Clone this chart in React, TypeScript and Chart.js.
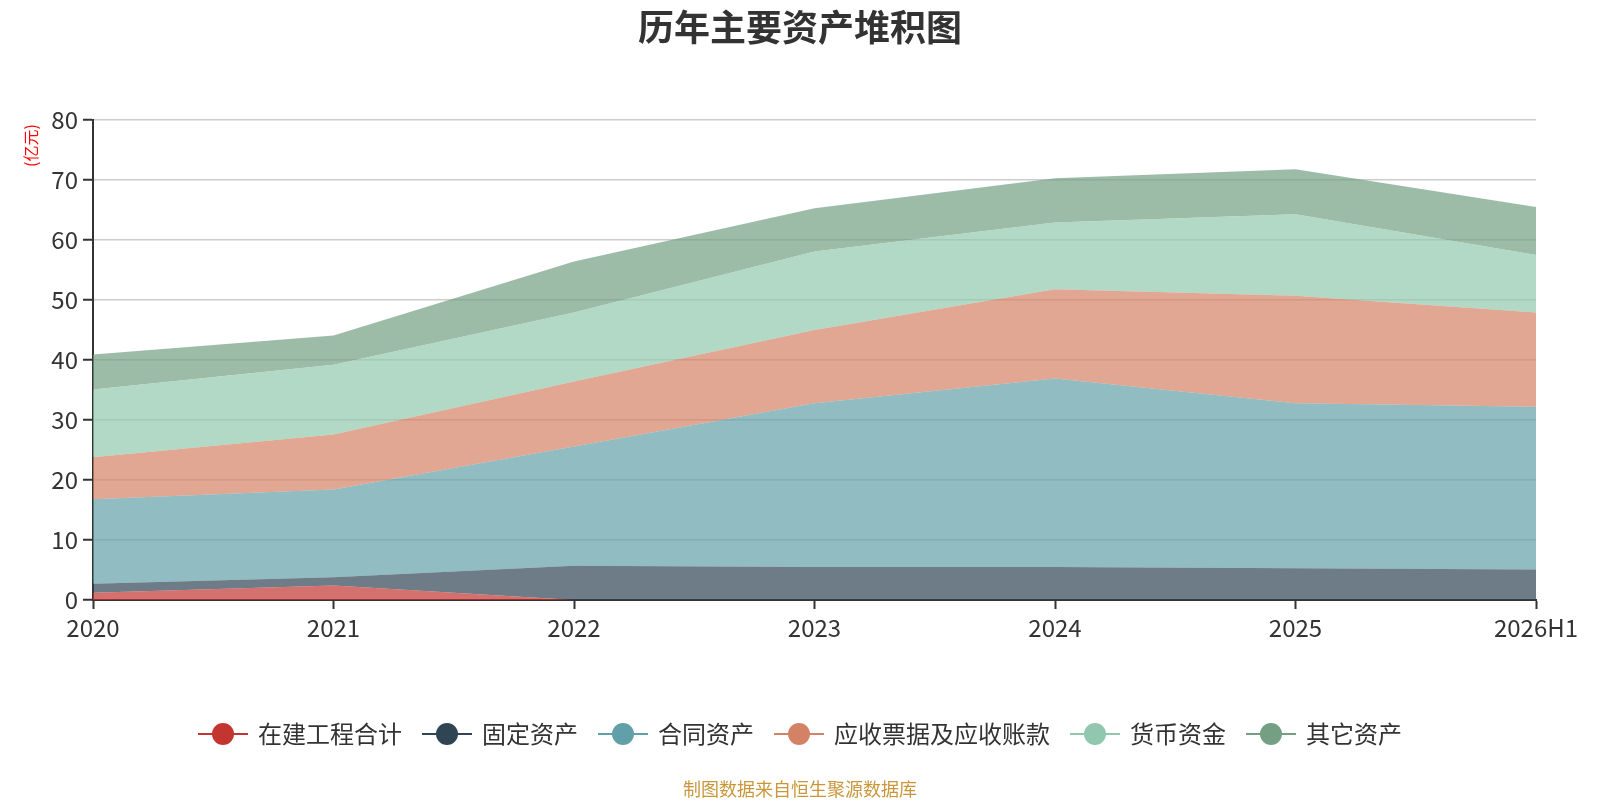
import React, { useEffect, useRef } from "react";
import { Chart, registerables } from "chart.js";

Chart.register(...registerables);

const categories = ["2020", "2021", "2022", "2023", "2024", "2025", "2026H1"];
const seriesNames = ["在建工程合计", "固定资产", "合同资产", "应收票据及应收账款", "货币资金", "其它资产"];
const zaijian = [1.2, 2.4, 0, 0, 0, 0, 0];
const guding = [1.5, 1.4, 5.7, 5.5, 5.5, 5.3, 5.1];
const hetong = [14.1, 14.6, 19.9, 27.3, 31.4, 27.5, 27.1];
const yingshou = [7.0, 9.2, 10.8, 12.2, 14.9, 17.9, 15.7];
const huobi = [11.3, 11.6, 11.5, 13.1, 11.1, 13.6, 9.6];
const qita = [5.8, 4.9, 8.5, 7.2, 7.4, 7.5, 8.0];
const seriesValues = [zaijian, guding, hetong, yingshou, huobi, qita];
const colors = ["#c23531", "#2f4554", "#61a0a8", "#d48265", "#91c7ae", "#749f83"];

const titleText = "历年主要资产堆积图";
const unitText = "(亿元)";
const footerText = "制图数据来自恒生聚源数据库";
const FONT = "'Noto Sans CJK SC', 'Noto Sans', sans-serif";

function hexToRgba(hex: string, a: number) {
  const n = parseInt(hex.slice(1), 16);
  return `rgba(${(n >> 16) & 255},${(n >> 8) & 255},${n & 255},${a})`;
}

const decorPlugin = {
  id: "decor",
  afterDraw(chart: any) {
    const ctx = chart.ctx as CanvasRenderingContext2D;
    ctx.save();
    // title
    ctx.fillStyle = "#333";
    ctx.font = `bold 36px ${FONT}`;
    ctx.textAlign = "center";
    ctx.textBaseline = "middle";
    ctx.fillText(titleText, 800, 27);
    // unit label
    ctx.save();
    ctx.translate(30.5, 145.5);
    ctx.rotate(-Math.PI / 2);
    ctx.fillStyle = "#ff0000";
    ctx.font = `16px ${FONT}`;
    ctx.textAlign = "center";
    ctx.textBaseline = "middle";
    ctx.fillText(unitText, 0, 0);
    ctx.restore();
    // legend
    ctx.font = `24px ${FONT}`;
    const itemW = 50;
    const iconGap = 10;
    const itemGap = 20;
    const widths = seriesNames.map((s) => ctx.measureText(s).width);
    const total =
      widths.reduce((a, b) => a + b, 0) + seriesNames.length * (itemW + iconGap) + (seriesNames.length - 1) * itemGap;
    let x = 800 - total / 2;
    const ly = 734;
    seriesNames.forEach((name, i) => {
      ctx.strokeStyle = colors[i];
      ctx.lineWidth = 2;
      ctx.beginPath();
      ctx.moveTo(x, ly);
      ctx.lineTo(x + itemW, ly);
      ctx.stroke();
      ctx.fillStyle = colors[i];
      ctx.beginPath();
      ctx.arc(x + itemW / 2, ly, 11, 0, Math.PI * 2);
      ctx.fill();
      ctx.fillStyle = "#333";
      ctx.textAlign = "left";
      ctx.textBaseline = "middle";
      ctx.fillText(name, x + itemW + iconGap, ly);
      x += itemW + iconGap + widths[i] + itemGap;
    });
    // footer
    ctx.fillStyle = "#c9973a";
    ctx.font = `18px ${FONT}`;
    ctx.textAlign = "center";
    ctx.textBaseline = "middle";
    ctx.fillText(footerText, 800, 789);
    ctx.restore();
  },
};

export default function App() {
  const ref = useRef<HTMLCanvasElement | null>(null);
  useEffect(() => {
    if (!ref.current) return;
    const chart = new Chart(ref.current, {
      type: "line",
      data: {
        labels: categories,
        datasets: seriesNames.map((name, i) => ({
          label: name,
          data: seriesValues[i],
          backgroundColor: hexToRgba(colors[i], 0.7),
          borderColor: colors[i],
          borderWidth: 0,
          pointRadius: 0,
          pointHoverRadius: 0,
          tension: 0,
          fill: i === 0 ? "origin" : "-1",
        })),
      },
      options: {
        animation: false,
        responsive: true,
        maintainAspectRatio: false,
        layout: { padding: { left: 0, right: 64, top: 120, bottom: 160 } },
        plugins: {
          legend: { display: false },
          title: { display: false },
          tooltip: { enabled: false },
        },
        scales: {
          x: {
            type: "category",
            offset: false,
            grid: {
              display: true,
              drawOnChartArea: false,
              drawTicks: true,
              tickLength: 9,
              tickColor: "#333",
              tickWidth: 2,
            },
            border: { display: true, color: "#333", width: 2 },
            ticks: {
              color: "#333",
              font: { size: 24, family: FONT },
              padding: 4,
              maxRotation: 0,
              autoSkip: false,
            },
            afterFit: (scale: any) => {
              scale.height = 40;
            },
          },
          y: {
            stacked: true,
            min: 0,
            max: 80,
            ticks: {
              stepSize: 10,
              color: "#333",
              font: { size: 24, family: FONT },
              padding: 5,
            },
            grid: {
              color: "#cccccc",
              lineWidth: 1.5,
              drawTicks: true,
              tickLength: 10,
              tickColor: "#333",
              tickWidth: 2,
            },
            border: { display: true, color: "#333", width: 2 },
            afterFit: (scale: any) => {
              scale.width = 93;
            },
          },
        },
      },
      plugins: [decorPlugin],
    });
    return () => chart.destroy();
  }, []);
  return (
    <div style={{ position: "absolute", left: 0, top: 0, width: 1600, height: 800, background: "#fff" }}>
      <canvas ref={ref} />
    </div>
  );
}
